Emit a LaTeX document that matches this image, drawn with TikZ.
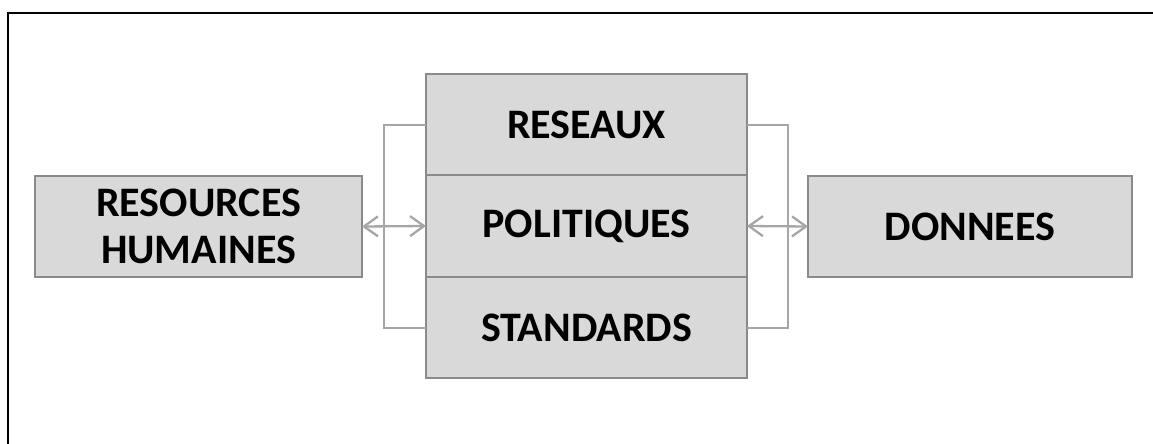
\documentclass[tikz,border=0pt]{standalone}
\usepackage{fontspec}
\setmainfont{Carlito}
\usetikzlibrary{positioning,arrows.meta}

\definecolor{boxfill}{HTML}{D9D9D9}
\definecolor{boxline}{HTML}{8A8A8A}
\definecolor{linkline}{HTML}{A6A6A6}

\begin{document}
\begin{tikzpicture}[x=1pt,y=-1pt,
  main/.style = {draw=boxline, fill=boxfill, line width=2pt, inner sep=0pt, outer sep=0pt,
    minimum height=101.5pt, align=center, font=\fontsize{42}{47}\selectfont\bfseries},
  link/.style = {draw=linkline, line width=2pt},
  both/.style = {link, line width=2.3pt, {Straight Barb[length=14pt,width=20pt,line width=2.3pt]}-{Straight Barb[length=14pt,width=20pt,line width=2.3pt]}}]
\useasboundingbox (0,0) rectangle (1153,444);
\draw[line width=2pt] (1153,13) -- (8,13) -- (8,444);

\node[main, minimum width=327pt] (rh) at (198.5,226.5) {RESOURCES\\HUMAINES};
\node[main, minimum width=321pt] (res) at (586.5,124.5) {RESEAUX};
\node[main, minimum width=321pt] (pol) [below=0pt of res] {POLITIQUES};
\node[main, minimum width=321pt] (std) [below=0pt of pol] {STANDARDS};
\node[main, minimum width=324pt] (don) at (970,226.5) {DONNEES};

% brackets round the middle stack
\draw[link] (res.west) -- ++(-42,0) |- (std.west);
\draw[link] (res.east) -- ++(41,0) |- (std.east);

\draw[both] (rh.east) -- (pol.west);
\draw[both] (pol.east) -- (don.west);
\end{tikzpicture}
\end{document}
